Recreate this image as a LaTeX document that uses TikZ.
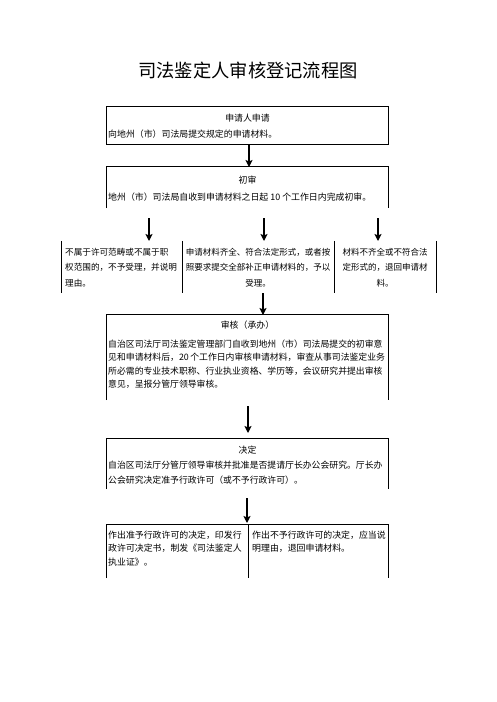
\documentclass[tikz,border=0pt]{standalone}
\usepackage{fontspec}
\newfontfamily\cjk{Noto Sans CJK SC}
\usetikzlibrary{arrows.meta}
\begin{document}
\begin{tikzpicture}[x=1pt,y=-1pt,
  frame/.style={draw=none,inner sep=0pt,minimum width=281pt},
  border/.style={line width=0.9pt,black},
  arr/.style={line width=1.5pt,-{Stealth[length=7pt,width=7pt,inset=1.5pt]}},
  hd/.style={font=\cjk\fontsize{8.9pt}{13.5pt}\selectfont,inner sep=0pt},
  body/.style={font=\cjk\fontsize{8.9pt}{13.5pt}\selectfont,inner sep=0pt,anchor=base west,align=left},
]
\useasboundingbox (0,0) rectangle (496,702);
\fill[white] (0,0) rectangle (496,702);

% title
\node[font=\cjk\fontsize{18.3pt}{20pt}\selectfont,inner sep=0pt] (title) at (248,71) {司法鉴定人审核登记流程图};

% box 1
\node[frame,minimum height=37pt] (b1) at (247.5,125.5) {};
\draw[border] (b1.north west) rectangle (b1.south east);
\node[hd] (b1t) at (247.5,118) {申请人申请};
\node[body] (b1x) at (108,137.2) {向地州（市）司法局提交规定的申请材料。};

% box 2
\node[frame,minimum height=41pt] (b2) at (247.5,187.5) {};
\draw[border] (b2.south west) -- (b2.north west) -- (b2.north east) -- (b2.south east);
\node[hd] (b2t) at (247.5,180) {初审};
\node[body] (b2x) at (108,200.2) {地州（市）司法局自收到申请材料之日起 10 个工作日内完成初审。};

% three boxes
\node[draw=none,inner sep=0pt,minimum width=120pt,minimum height=52pt] (ca) at (122,267) {};
\node[draw=none,inner sep=0pt,minimum width=152pt,minimum height=52pt] (cb) at (258,267) {};
\node[draw=none,inner sep=0pt,minimum width=102pt,minimum height=52pt] (cc) at (385,267) {};
\draw[border] (ca.north west) -- (ca.south west);
\draw[border] (ca.north east) -- (ca.south east);
\draw[border] (cb.north east) -- (cb.south east);
\draw[border] (cc.north east) -- (cc.south east);
\node[body,font=\cjk\fontsize{8.6pt}{15.8pt}\selectfont] (cax) at (65,286.6) {不属于许可范畴或不属于职\\权范围的，不予受理，并说明\\理由。};
\node[body,anchor=base,align=center,font=\cjk\fontsize{8.5pt}{15.8pt}\selectfont] (cbx) at (258,286.6) {申请材料齐全、符合法定形式，或者按\\照要求提交全部补正申请材料的，予以\\受理。};
\node[body,anchor=base,align=center,font=\cjk\fontsize{8.5pt}{15.8pt}\selectfont] (ccx) at (385,286.6) {材料不齐全或不符合法\\定形式的，退回申请材\\料。};

% review box
\node[frame,minimum height=85pt] (b3) at (247.5,357.5) {};
\draw[border] (b3.south west) -- (b3.north west) -- (b3.north east) -- (b3.south east);
\node[hd] (b3t) at (247.5,325) {审核（承办）};
\node[body,font=\cjk\fontsize{8.85pt}{13.5pt}\selectfont] (b3x) at (108,387.7) {自治区司法厅司法鉴定管理部门自收到地州（市）司法局提交的初审意\\见和申请材料后，20\hspace{1.5pt}个工作日内审核申请材料，审查从事司法鉴定业务\\所必需的专业技术职称、行业执业资格、学历等，会议研究并提出审核\\意见，呈报分管厅领导审核。};

% decision box
\node[frame,minimum height=50pt] (b4) at (247.5,464) {};
\draw[border] (b4.south west) -- (b4.north west) -- (b4.north east) -- (b4.south east);
\node[hd] (b4t) at (247.5,450) {决定};
\node[body,font=\cjk\fontsize{8.85pt}{15pt}\selectfont] (b4x) at (108,483.2) {自治区司法厅分管厅领导审核并批准是否提请厅长办公会研究。厅长办\\公会研究决定准予行政许可（或不予行政许可）。};

% final boxes
\node[draw=none,inner sep=0pt,minimum width=141pt,minimum height=53pt] (fl) at (177.5,551.5) {};
\node[draw=none,inner sep=0pt,minimum width=140pt,minimum height=53pt] (fr) at (318,551.5) {};
\draw[border] (fl.south west) -- (fl.north west) -- (fr.north east) -- (fr.south east);
\draw[border] (fl.north east) -- (fl.south east);
\node[body] (flx) at (108,565.2) {作出准予行政许可的决定，印发行\\政许可决定书，制发《司法鉴定人\\执业证》。};
\node[body] (frx) at (252,551.7) {作出不予行政许可的决定，应当说\\明理由，退回申请材料。};

% arrows
\coordinate (a0s) at (249,144);
\coordinate (a0e) at (249,167);
\coordinate (a1s) at (149,218);
\coordinate (a1e) at (149,241);
\coordinate (a2s) at (264,218);
\coordinate (a2e) at (264,241);
\coordinate (a3s) at (378,218);
\coordinate (a3e) at (378,241);
\coordinate (a4s) at (263,293);
\coordinate (a4e) at (263,315);
\coordinate (a5s) at (248,406);
\coordinate (a5e) at (248,433);
\coordinate (a6s) at (247,498);
\coordinate (a6e) at (247,523);
\draw[arr] (a0s) -- (a0e);
\draw[arr] (a1s) -- (a1e);
\draw[arr] (a2s) -- (a2e);
\draw[arr] (a3s) -- (a3e);
\draw[arr] (a4s) -- (a4e);
\draw[arr] (a5s) -- (a5e);
\draw[arr] (a6s) -- (a6e);
\end{tikzpicture}
\end{document}
